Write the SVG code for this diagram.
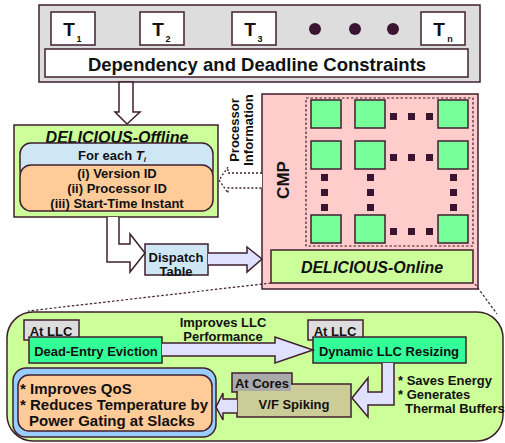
<svg xmlns="http://www.w3.org/2000/svg" width="505" height="443" viewBox="0 0 505 443">
<style>
text{font-family:"Liberation Sans",Arial,sans-serif;font-weight:bold;fill:#111}
.s{stroke:#3f1f2f;stroke-width:1.5}
.c{text-anchor:middle;dominant-baseline:central}
.l{dominant-baseline:central}
.i{font-style:italic}
.core{fill:#77ff99;stroke:#3f1f2f;stroke-width:1.5}
.dot{fill:#3a1430}
.arr{fill:#e0e0ff;stroke:#3f1f2f;stroke-width:1.5}
.dash{fill:none;stroke:#3f1f2f;stroke-width:1.2;stroke-dasharray:2.5 2}
</style>

<g id="tasks">
<rect class="s" x="39" y="5" width="441" height="77" fill="#dddddd"/>
<rect class="s" x="51" y="12" width="44" height="33" fill="#fff"/>
<text x="69" y="29" class="c" font-size="19">T</text><text x="79" y="39" class="c" font-size="9">1</text>
<rect class="s" x="140" y="12" width="44" height="33" fill="#fff"/>
<text x="158" y="29" class="c" font-size="19">T</text><text x="168" y="39" class="c" font-size="9">2</text>
<rect class="s" x="232" y="12" width="44" height="33" fill="#fff"/>
<text x="250" y="29" class="c" font-size="19">T</text><text x="260" y="39" class="c" font-size="9">3</text>
<circle class="dot" cx="315" cy="29" r="6"/>
<circle class="dot" cx="355" cy="29" r="6"/>
<circle class="dot" cx="393" cy="29" r="6"/>
<rect class="s" x="421" y="12" width="44" height="33" fill="#fff"/>
<text x="439" y="29" class="c" font-size="19">T</text><text x="450" y="39" class="c" font-size="9">n</text>
<rect class="s" x="45" y="49" width="423" height="28" fill="#fff"/>
<text x="257" y="64" class="c" font-size="18.5">Dependency and Deadline Constraints</text>
</g>

<g id="offline">
<rect class="s" x="14" y="125" width="204" height="92" fill="#ccff99"/>
<text x="117" y="137" class="c i" font-size="16">DELICIOUS-Offline</text>
<rect class="s" x="20" y="143" width="193" height="38" rx="11" fill="#cfe7f5"/>
<text x="112" y="155" class="c" font-size="13">For each <tspan font-style="italic">T</tspan><tspan font-size="8" dy="4" font-style="italic">i</tspan></text>
<rect class="s" x="20" y="165" width="193" height="46" rx="11" fill="#ffcc99"/>
<text x="117" y="173" class="c" font-size="13">(i) Version ID</text>
<text x="117" y="188" class="c" font-size="13">(ii) Processor ID</text>
<text x="117" y="203" class="c" font-size="13">(iii) Start-Time Instant</text>
</g>

<g id="dispatch">
<rect class="s" x="145" y="244" width="63" height="31" fill="#cfe7f5"/>
<text x="176" y="257" class="c" font-size="13">Dispatch</text>
<text x="176" y="271" class="c" font-size="13">Table</text>
</g>

<g id="cmp">
<rect class="s" x="262" y="94" width="216" height="195" fill="#ffcccc"/>
<text class="c" font-size="17" transform="translate(283,180) rotate(-90)">CMP</text>
<rect x="306" y="98" width="167" height="148" fill="none" stroke="#3f1f2f" stroke-width="1.2" stroke-dasharray="2.5 2"/>
<rect class="core" x="311" y="100" width="30" height="28"/>
<rect class="core" x="355" y="100" width="30" height="28"/>
<rect class="core" x="438" y="100" width="30" height="28"/>
<rect class="core" x="311" y="141" width="30" height="28"/>
<rect class="core" x="355" y="141" width="30" height="28"/>
<rect class="core" x="438" y="141" width="30" height="28"/>
<rect class="core" x="311" y="215" width="30" height="28"/>
<rect class="core" x="355" y="215" width="30" height="28"/>
<rect class="core" x="438" y="215" width="30" height="28"/>
<g class="dot">
<rect x="390" y="113" width="7" height="7"/><rect x="408" y="113" width="7" height="7"/><rect x="426" y="113" width="7" height="7"/>
<rect x="390" y="154" width="7" height="7"/><rect x="408" y="154" width="7" height="7"/><rect x="426" y="154" width="7" height="7"/>
<rect x="390" y="228" width="7" height="7"/><rect x="408" y="228" width="7" height="7"/><rect x="426" y="228" width="7" height="7"/>
<rect x="321" y="174" width="7" height="7"/><rect x="321" y="189" width="7" height="7"/><rect x="321" y="204" width="7" height="7"/>
<rect x="367" y="174" width="7" height="7"/><rect x="367" y="189" width="7" height="7"/><rect x="367" y="204" width="7" height="7"/>
<rect x="450" y="174" width="7" height="7"/><rect x="450" y="189" width="7" height="7"/><rect x="450" y="204" width="7" height="7"/>
</g>
</g>

<g id="online">
<rect class="s" x="271" y="250" width="202" height="33" fill="#ccff99"/>
<text x="372" y="267" class="c i" font-size="16">DELICIOUS-Online</text>
</g>

<g id="proc-info">
<text class="c" font-size="13" transform="translate(234,130) rotate(-90)">Processor</text>
<text class="c" font-size="13" transform="translate(248,130) rotate(-90)">Information</text>
</g>

<g id="detail">
<rect class="s" x="7" y="312" width="496" height="129" rx="26" fill="#ccff99"/>
</g>

<g id="dee">
<rect class="s" x="24" y="320" width="55" height="20" fill="#dddddd"/>
<text x="51" y="331" class="c" font-size="13">At LLC</text>
<rect class="s" x="29" y="337" width="133" height="26" fill="#33ff99"/>
<text x="96" y="351" class="c" font-size="13">Dead-Entry Eviction</text>
</g>

<g id="dlr">
<rect class="s" x="308" y="320" width="55" height="20" fill="#dddddd"/>
<text x="335" y="331" class="c" font-size="13">At LLC</text>
<rect class="s" x="313" y="337" width="153" height="26" fill="#33ff99"/>
<text x="389" y="351" class="c" font-size="13">Dynamic LLC Resizing</text>
</g>

<g id="vf">
<rect class="s" x="232" y="373" width="60" height="19" fill="#aaaaaa"/>
<rect class="s" x="237" y="384" width="114" height="33" fill="#cccc99"/>
<rect x="233" y="374" width="58" height="17" fill="#aaaaaa"/>
<text x="262" y="383" class="c" font-size="13">At Cores</text>
<text x="294" y="404" class="c" font-size="13">V/F Spiking</text>
</g>

<g id="qos">
<rect class="s" x="13" y="368" width="203" height="69" rx="13" fill="#99ccff"/>
<rect class="s" x="18" y="375" width="194" height="56" rx="11" fill="#ffcc99"/>
<text x="20" y="388" class="l" font-size="15">* Improves QoS</text>
<text x="20" y="404" class="l" font-size="15">* Reduces Temperature by</text>
<text x="29" y="420" class="l" font-size="15">Power Gating at Slacks</text>
</g>

<g id="labels">
<text x="223" y="322" class="c" font-size="13">Improves LLC</text>
<text x="223" y="336" class="c" font-size="13">Performance</text>
<text x="398" y="380" class="l" font-size="13">* Saves Energy</text>
<text x="398" y="394" class="l" font-size="13">* Generates</text>
<text x="405" y="408" class="l" font-size="13">Thermal Buffers</text>
</g>

<g id="connectors">
<path class="s" fill="#fff" d="M119,82 L119,112 L115,112 L127,124 L140,112 L133,112 L133,82 Z"/>
<path class="s" fill="#fff" d="M107,217 L107,262 L130,262 L130,272 L145,253 L130,234 L130,244 L119,244 L119,217"/>
<path class="arr" d="M208,253 L247,253 L247,247 L262,259 L247,272 L247,265 L208,265"/>
<path fill="#fff" stroke="#3f1f2f" stroke-width="1.3" stroke-dasharray="2 2" d="M262,173 L228,173 L228,167 L219,180 L228,193 L228,188 L262,188"/>
<path class="arr" d="M162,343 L275,343 L275,337 L313,350 L275,363 L275,356 L162,356"/>
<path class="arr" d="M382,363 L382,392 L368,392 L368,378 L352,398 L368,417 L368,405 L394,405 L394,363"/>
<path class="arr" d="M237,399 L223,399 L223,393 L216,407 L223,420 L223,413 L237,413"/>
<path class="dash" d="M271,283 L28,311"/>
<path class="dash" d="M475,284 L497,314"/>
</g>
</svg>
